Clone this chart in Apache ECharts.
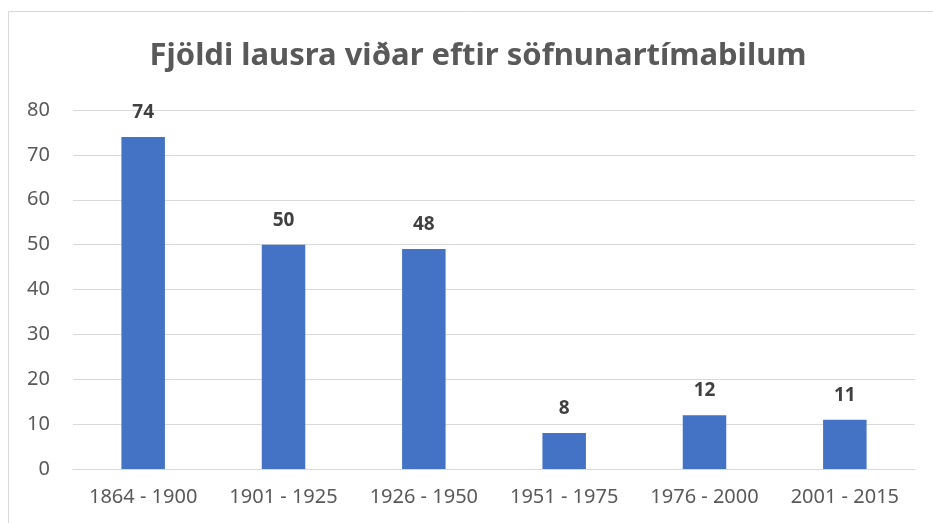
<!DOCTYPE html>
<html>
<head>
<meta charset="utf-8">
<script src="https://cdn.jsdelivr.net/npm/echarts@6/dist/echarts.min.js"></script>
<style>
  html, body { margin: 0; padding: 0; background: #fff; }
  #main { width: 933px; height: 523px; }
</style>
</head>
<body>
<div id="main"></div>
<script>
// söfnunartímabil og fjöldi
var periods = ['1864 - 1900', '1901 - 1925', '1926 - 1950', '1951 - 1975', '1976 - 2000', '2001 - 2015'];
var counts = [74, 50, 49, 8, 12, 11];
var countLabels = ['74', '50', '48', '8', '12', '11'];
var yTicks = [0, 10, 20, 30, 40, 50, 60, 70, 80];

var font = 'Noto Sans';

var option = {
    backgroundColor: '#fff',
    animation: false,
    title: {
        text: 'Fjöldi lausra viðar eftir söfnunartímabilum',
        left: 473,
        textAlign: 'center',
        top: 36,
        textStyle: {
            fontFamily: font,
            fontSize: 31,
            fontWeight: 'bold',
            color: '#595959'
        }
    },
    graphic: [{
        type: 'rect',
        shape: { x: 8.5, y: 11.5, width: 940, height: 530 },
        style: { fill: 'none', stroke: '#d9d9d9', lineWidth: 1 },
        silent: true
    }],
    grid: {
        left: 73,
        right: 18,
        top: 110,
        bottom: 54
    },
    xAxis: {
        type: 'category',
        data: periods,
        axisTick: { show: false },
        axisLine: { lineStyle: { color: '#d9d9d9', width: 1 } },
        axisLabel: {
            interval: 0,
            hideOverlap: false,
            margin: 18,
            fontFamily: font,
            fontSize: 20,
            color: '#595959'
        }
    },
    yAxis: {
        type: 'value',
        min: yTicks[0],
        max: yTicks[yTicks.length - 1],
        interval: 10,
        axisLine: { show: false },
        axisTick: { show: false },
        splitLine: { lineStyle: { color: '#d9d9d9', width: 1 } },
        axisLabel: {
            margin: 23,
            fontFamily: font,
            fontSize: 20,
            color: '#595959'
        }
    },
    series: [{
        type: 'bar',
        data: counts,
        barWidth: '31%',
        itemStyle: { color: '#4472c4' },
        label: {
            show: true,
            position: 'top',
            distance: 15,
            fontFamily: font,
            fontSize: 19,
            fontWeight: 'bold',
            color: '#404040',
            formatter: function (p) { return countLabels[p.dataIndex]; }
        }
    }]
};

var myChart = echarts.init(document.getElementById('main'));
myChart.setOption(option);
</script>
</body>
</html>
